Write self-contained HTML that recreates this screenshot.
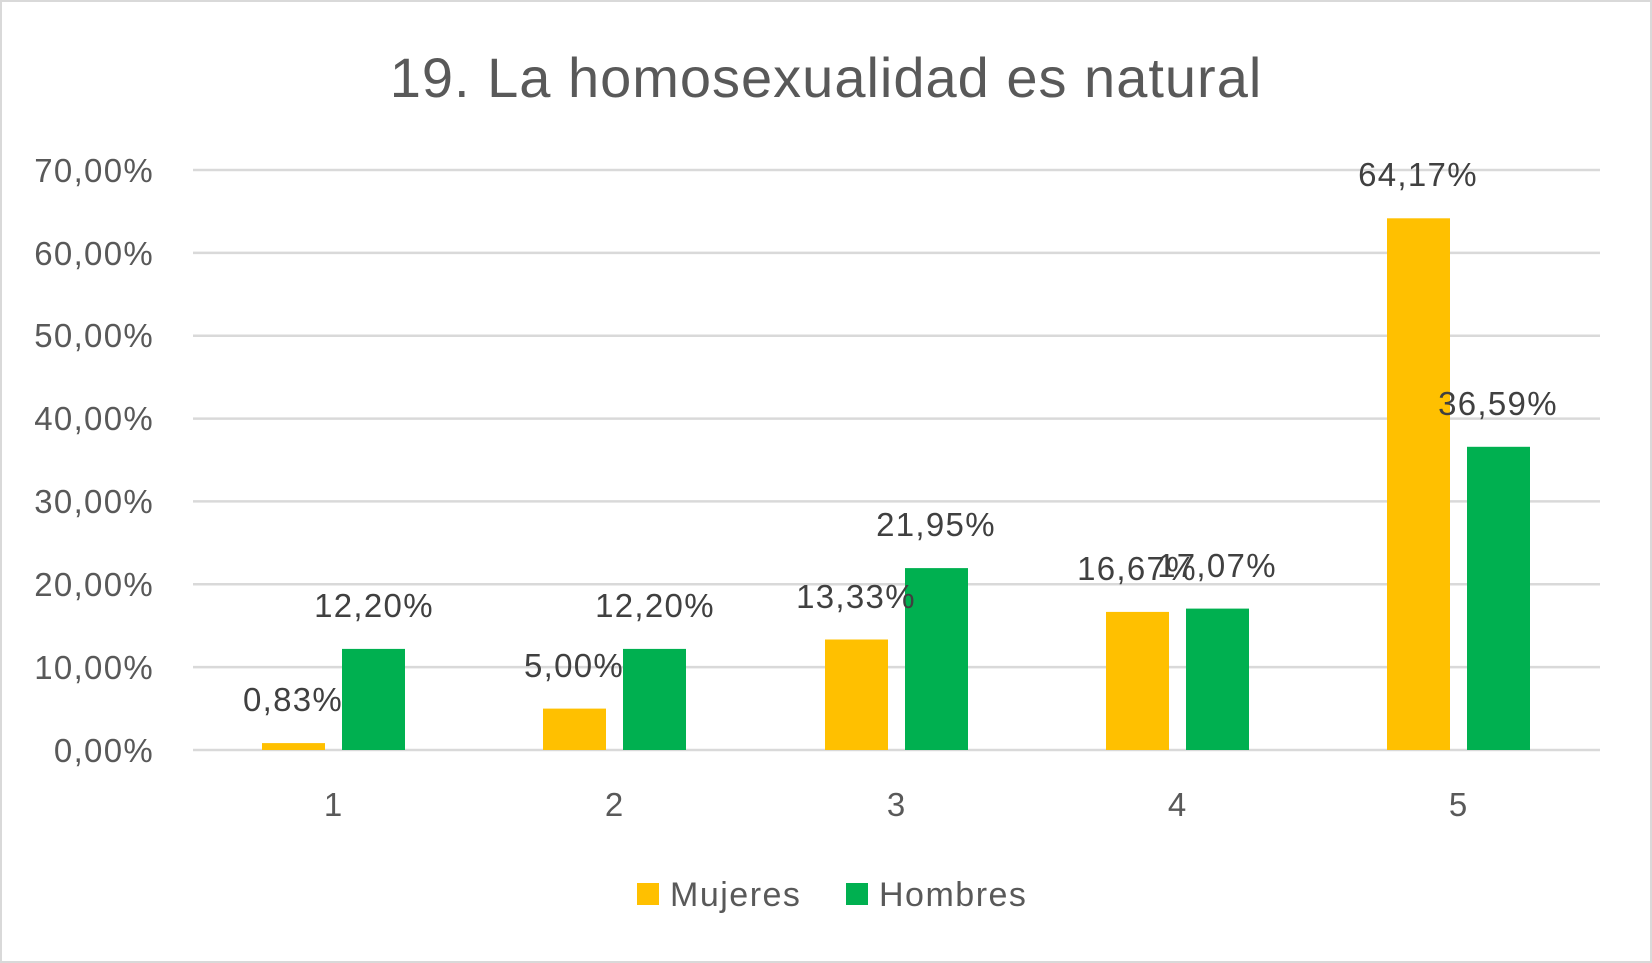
<!DOCTYPE html>
<html><head><meta charset="utf-8"><style>
html,body{margin:0;padding:0;background:#fff}
svg{display:block}
text{font-family:"Liberation Sans",sans-serif}
</style></head><body>
<svg width="1652" height="963" viewBox="0 0 1652 963" xmlns="http://www.w3.org/2000/svg">
<rect x="1" y="1" width="1650" height="961" fill="#fff" stroke="#d9d9d9" stroke-width="2"/>
<text x="826" y="97" text-anchor="middle" font-size="56" letter-spacing="1" fill="#595959">19. La homosexualidad es natural</text>
<g stroke="#d9d9d9" stroke-width="2.5">
<line x1="193" x2="1600" y1="170" y2="170"/>
<line x1="193" x2="1600" y1="252.9" y2="252.9"/>
<line x1="193" x2="1600" y1="335.7" y2="335.7"/>
<line x1="193" x2="1600" y1="418.6" y2="418.6"/>
<line x1="193" x2="1600" y1="501.4" y2="501.4"/>
<line x1="193" x2="1600" y1="584.3" y2="584.3"/>
<line x1="193" x2="1600" y1="667.1" y2="667.1"/>
<line x1="193" x2="1600" y1="750" y2="750"/>
</g>
<g font-size="33" letter-spacing="1.3" fill="#595959" text-anchor="end">
<text x="154" y="182">70,00%</text>
<text x="154" y="265">60,00%</text>
<text x="154" y="347">50,00%</text>
<text x="154" y="430">40,00%</text>
<text x="154" y="513">30,00%</text>
<text x="154" y="596">20,00%</text>
<text x="154" y="679">10,00%</text>
<text x="154" y="762">0,00%</text>
</g>
<g fill="#ffc000">
<rect x="262" y="743.1" width="63" height="6.9"/>
<rect x="543" y="708.6" width="63" height="41.4"/>
<rect x="825" y="639.5" width="63" height="110.5"/>
<rect x="1106" y="611.9" width="63" height="138.1"/>
<rect x="1387" y="218.3" width="63" height="531.7"/>
</g>
<g fill="#00b050">
<rect x="342" y="648.9" width="63" height="101.1"/>
<rect x="623" y="648.9" width="63" height="101.1"/>
<rect x="905" y="568.1" width="63" height="181.9"/>
<rect x="1186" y="608.6" width="63" height="141.4"/>
<rect x="1467" y="446.8" width="63" height="303.2"/>
</g>
<g font-size="33" letter-spacing="1.3" fill="#404040" text-anchor="middle">
<text x="293" y="711">0,83%</text>
<text x="374" y="617">12,20%</text>
<text x="574" y="677">5,00%</text>
<text x="655" y="617">12,20%</text>
<text x="856" y="608">13,33%</text>
<text x="936" y="536">21,95%</text>
<text x="1137" y="580">16,67%</text>
<text x="1217" y="577">17,07%</text>
<text x="1418" y="186">64,17%</text>
<text x="1498" y="415">36,59%</text>
</g>
<g font-size="33" fill="#595959" text-anchor="middle">
<text x="333" y="816">1</text>
<text x="614" y="816">2</text>
<text x="896" y="816">3</text>
<text x="1177" y="816">4</text>
<text x="1458" y="816">5</text>
</g>
<rect x="637" y="883" width="22" height="22" fill="#ffc000"/>
<text x="670" y="906" font-size="34" letter-spacing="1.5" fill="#595959">Mujeres</text>
<rect x="846" y="883" width="22" height="22" fill="#00b050"/>
<text x="879" y="906" font-size="34" letter-spacing="1.5" fill="#595959">Hombres</text>
</svg>
</body></html>
